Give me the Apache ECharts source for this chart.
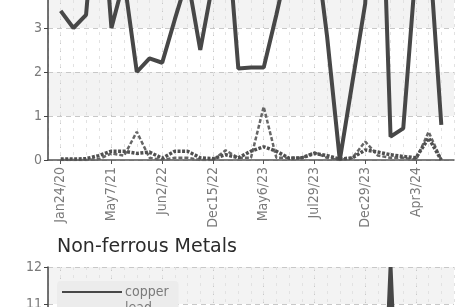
<!DOCTYPE html>
<html>
<head>
<meta charset="utf-8">
<script src="https://cdn.jsdelivr.net/npm/echarts@6.0.0/dist/echarts.min.js"></script>
<style>
  html, body { margin: 0; padding: 0; background: #fff; }
  #chart { width: 457px; height: 307px; }
</style>
</head>
<body>
<div id="chart"></div>
<script>
// dates of the snapshots (every 4th one is labelled)
const dates = [
  "Jan24/20", "Apr17/20", "Aug5/20", "Dec11/20", "May7/21", "Sep2/21", "Dec20/21", "Mar14/22",
  "Jun2/22", "Aug10/22", "Oct3/22", "Nov9/22", "Dec15/22", "Feb2/23", "Mar8/23", "Apr4/23",
  "May6/23", "Jun1/23", "Jun22/23", "Jul10/23", "Jul29/23", "Aug30/23", "Oct5/23", "Nov14/23",
  "Dec29/23", "Jan26/24", "Feb14/24", "Mar8/24", "Apr3/24", "May2/24", "Jun5/24",
];

// upper chart
const copper = [3.39, 3.0, 3.3, 6.7, 3.0, 4.1, 2.0, 2.31, 2.21, 3.2, 4.15, 2.5, 4.05, 5.7, 2.08, 2.1,
  2.1, 3.3, 4.6, 5.5, 5.1, 2.8, 0, 1.78, 3.55, 9.3, 0.53, 0.72, 4.4, 5.0, 0.8];
const lead = [0.02, 0.02, 0.03, 0.1, 0.2, 0.2, 0.15, 0.18, 0.04, 0.2, 0.2, 0.05, 0.03, 0.12, 0.05, 0.2,
  0.3, 0.2, 0.04, 0.05, 0.15, 0.1, 0.02, 0.05, 0.23, 0.18, 0.12, 0.08, 0.05, 0.5, 0];
const zinc = [0, 0, 0, 0.02, 0.15, 0.1, 0.64, 0.05, 0, 0.05, 0.05, 0, 0, 0.22, 0.05, 0.05,
  1.21, 0.05, 0.05, 0.05, 0.17, 0.05, 0, 0.05, 0.42, 0.1, 0.05, 0.05, 0, 0.64, 0];

// lower chart "Non-ferrous Metals" (only the top of it is in view)
const nfCopper = [4.2, 4.0, 4.1, 4.5, 4.0, 4.3, 3.8, 3.9, 3.9, 4.1, 4.3, 4.0, 4.2, 4.6, 3.8, 3.8,
  3.8, 4.1, 4.4, 4.6, 4.5, 4.0, 3.5, 3.8, 4.0, 4.0, 12, 4.0, 4.2, 4.3, 3.6];
const nfLead = [1.0, 1.0, 1.0, 1.1, 1.2, 1.2, 1.1, 1.2, 1.0, 1.2, 1.2, 1.0, 1.0, 1.1, 1.0, 1.2,
  1.3, 1.2, 1.0, 1.0, 1.1, 1.1, 1.0, 1.0, 1.2, 1.2, 1.1, 1.1, 1.0, 1.4, 1.0];

const tickFont = "'Liberation Sans Narrow', 'DejaVu Sans Condensed', sans-serif";
const axisGray = "#7a7a7a";

// one empty slot at each end of the category axis
const cats = ["", ...dates, ""];
const pad = (arr) => ["-", ...arr, "-"];
const isLabelled = (i) => i > 0 && i <= dates.length && (i - 1) % 4 === 0;

const majorX = (gridIndex, showLabels) => ({
  type: "category",
  gridIndex,
  data: cats,
  boundaryGap: false,
  axisLine: { show: true, lineStyle: { color: "#555", width: 1.5 } },
  axisTick: { show: true, interval: isLabelled, length: 4, lineStyle: { color: "#555" } },
  axisLabel: {
    show: showLabels,
    interval: isLabelled,
    rotate: 90,
    margin: 7,
    color: axisGray,
    fontFamily: tickFont,
    fontSize: 14,
  },
  splitLine: {
    show: true,
    interval: isLabelled,
    lineStyle: { color: "#c8c8c8", type: [4, 4], width: 1 },
  },
});

const minorX = (gridIndex) => ({
  type: "category",
  gridIndex,
  data: cats,
  boundaryGap: false,
  axisLine: { show: false },
  axisTick: { show: false },
  axisLabel: { show: false },
  splitLine: { show: true, interval: 0, lineStyle: { color: "#e2e2e2", type: [3, 5], width: 1 } },
});

const valueY = (gridIndex, max) => ({
  type: "value",
  gridIndex,
  min: 0,
  max,
  interval: 1,
  axisLine: { show: true, lineStyle: { color: "#444", width: 1.5 } },
  axisTick: { show: true, length: 4, lineStyle: { color: "#444" } },
  axisLabel: { color: axisGray, fontFamily: tickFont, fontSize: 14, margin: 6 },
  splitLine: { show: true, lineStyle: { color: "#c8c8c8", type: [5, 4], width: 1 } },
  splitArea: { show: true, areaStyle: { color: ["#ffffff", "#f3f3f3"] } },
});

const line = (name, data, xAxisIndex, yAxisIndex, lineStyle, z) => ({
  name,
  type: "line",
  data: pad(data),
  xAxisIndex,
  yAxisIndex,
  showSymbol: false,
  symbol: "none",
  smooth: false,
  z,
  lineStyle,
  itemStyle: { color: lineStyle.color },
});

const copperStyle = { color: "#474747", width: 4, type: "solid" };
const leadStyle = { color: "#505050", width: 3.5, type: [3, 1.5] };
const zincStyle = { color: "#666666", width: 2.5, type: [4, 2] };

const chart = echarts.init(document.getElementById("chart"), null, { renderer: "canvas" });

chart.setOption({
  animation: false,
  backgroundColor: "#fff",
  title: {
    text: "Non-ferrous Metals",
    left: 52,
    top: 233,
    textStyle: { fontFamily: "'DejaVu Sans', sans-serif", fontSize: 19, fontWeight: "normal", color: "#2b2b2b" },
  },
  legend: {
    orient: "vertical",
    left: 57,
    top: 281,
    height: 80,
    padding: [4, 10, 4, 4],
    backgroundColor: "#ececec",
    borderRadius: 4,
    itemWidth: 60,
    itemHeight: 11,
    itemGap: 2,
    itemStyle: { opacity: 0 },
    data: ["copper", "lead"],
    textStyle: { color: axisGray, fontFamily: tickFont, fontSize: 14, lineHeight: 11, padding: [0, 0, 0, -2] },
  },
  grid: [
    { left: 48, width: 406, top: -280, height: 440, outerBoundsMode: "none" },
    { left: 48, width: 406, top: 267, height: 444, outerBoundsMode: "none" },
  ],
  xAxis: [majorX(0, true), minorX(0), majorX(1, true), minorX(1)],
  yAxis: [valueY(0, 10), valueY(1, 12)],
  series: [
    line("zinc", zinc, 0, 0, zincStyle, 3),
    line("lead", lead, 0, 0, leadStyle, 4),
    line("copper", copper, 0, 0, copperStyle, 5),
    line("lead", nfLead, 2, 1, leadStyle, 4),
    line("copper", nfCopper, 2, 1, copperStyle, 5),
  ],
});
</script>
</body>
</html>
